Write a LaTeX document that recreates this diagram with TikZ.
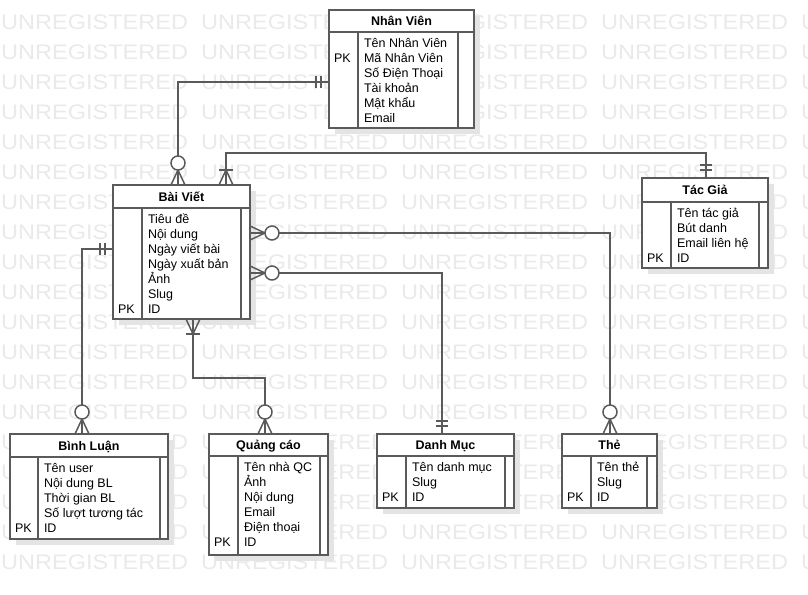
\documentclass[tikz,border=0pt]{standalone}
\usepackage{fontspec}
\setmainfont{Liberation Sans}
\usetikzlibrary{calc}

\definecolor{edgegray}{RGB}{90,90,90}
\definecolor{wmgray}{RGB}{234,234,234}
\definecolor{shadowgray}{RGB}{228,228,228}

\tikzset{
  entbox/.style={draw=edgegray, line width=1.5pt, fill=white, rectangle,
                 inner sep=0pt, outer sep=0pt},
  divider/.style={draw=edgegray, line width=1.5pt},
  conn/.style={draw=edgegray, line width=1.5pt},
  attr/.style={anchor=base west, inner sep=0pt, outer sep=0pt,
               font=\fontsize{12.5}{15}\selectfont},
  ttl/.style={anchor=base, inner sep=0pt, outer sep=0pt,
              font=\fontsize{12.5}{15}\selectfont\bfseries},
  wm/.style={anchor=west, inner sep=0pt, text=wmgray,
             font=\fontsize{21}{25}\selectfont},
  % end markers; local x axis points away from the entity
  pics/one/.style={code={
      \draw[conn] (8,-6) -- (8,6) (13,-6) -- (13,6);}},
  pics/zeromany/.style={code={
      \draw[conn] (0,-7) -- (15,0) -- (0,7);
      \draw[conn, fill=white] (22,0) circle (7);}},
  pics/onemany/.style={code={
      \draw[conn] (0,-7) -- (15,0) -- (0,7);
      \draw[conn] (15,-7) -- (15,7);}},
}

% entity: name, left, top, right, bottom, header line, inner left, inner right, title
\newcommand\erbox[9]{%
  \fill[shadowgray] (#2+6,#3+6) rectangle (#4+6,#5+6);
  \node[entbox, anchor=north west, minimum width={#4pt-#2pt},
        minimum height={#5pt-#3pt}] (#1) at (#2,#3) {};
  \draw[divider] (#2,#6) -- (#4,#6);
  \draw[divider] (#7,#6) -- (#7,#5);
  \draw[divider] (#8,#6) -- (#8,#5);
  \node[ttl] (#1-title) at ({(#2+#4)/2},{(#3+#6)/2+4.5}) {#9};
}
% attribute column: name, inner left, header line, list of attributes
\newcommand\erattrs[4]{%
  \foreach \txt [count=\i] in {#4}
    \node[attr] (#1-a\i) at (#2+6,{#3+15.5+15*(\i-1)}) {\txt};
}
% key marker: name, left, header line, row number
\newcommand\erpk[4]{%
  \node[attr] (#1-pk) at (#2+5,{#3+15.5+15*(#4-1)}) {PK};
}

\begin{document}
\begin{tikzpicture}[x=1pt,y=-1pt]
\useasboundingbox (0,0) rectangle (808,594);
\fill[white] (0,0) rectangle (808,594);

% background lettering
\begin{scope}
  \clip (0,0) rectangle (808,594);
  \foreach \r in {0,...,18}
    \foreach \c in {0,...,4}
      \node[wm] (wm-\r-\c) at (\c*200+1,22+\r*30) {\scalebox{1.12}[1]{UNREGISTERED}};
\end{scope}

% entities
\erbox{nv}{329}{10}{474}{128}{32}{358}{458}{Nhân Viên}
\erattrs{nv}{358}{32}{Tên Nhân Viên,Mã Nhân Viên,Số Điện Thoại,Tài khoản,Mật khẩu,Email}
\erpk{nv}{329}{32}{2}

\erbox{bv}{113}{185}{250}{319}{208}{142}{241}{Bài Viết}
\erattrs{bv}{142}{208}{Tiêu đề,Nội dung,Ngày viết bài,Ngày xuất bản,Ảnh,Slug,ID}
\erpk{bv}{113}{208}{7}

\erbox{tg}{642}{178}{768}{268}{202}{671}{759}{Tác Giả}
\erattrs{tg}{671}{202}{Tên tác giả,Bút danh,Email liên hệ,ID}
\erpk{tg}{642}{202}{4}

\erbox{bl}{10}{434}{168}{539}{457}{38}{160}{Bình Luận}
\erattrs{bl}{38}{457}{Tên user,Nội dung BL,Thời gian BL,Số lượt tương tác,ID}
\erpk{bl}{10}{457}{5}

\erbox{qc}{209}{434}{328}{555}{456}{238}{320}{Quảng cáo}
\erattrs{qc}{238}{456}{Tên nhà QC,Ảnh,Nội dung,Email,Điện thoại,ID}
\erpk{qc}{209}{456}{6}

\erbox{dm}{377}{434}{514}{508}{456}{406}{505}{Danh Mục}
\erattrs{dm}{406}{456}{Tên danh mục,Slug,ID}
\erpk{dm}{377}{456}{3}

\erbox{th}{562}{434}{657}{508}{456}{591}{647}{Thẻ}
\erattrs{th}{591}{456}{Tên thẻ,Slug,ID}
\erpk{th}{562}{456}{3}

% connection points on the entity borders
\coordinate (nv-w)  at ($(nv.north west)+(0,72)$);
\coordinate (bv-n1) at ($(bv.north west)+(65,0)$);
\coordinate (bv-n2) at ($(bv.north west)+(113,0)$);
\coordinate (tg-n)  at ($(tg.north west)+(64,0)$);
\coordinate (bv-e1) at ($(bv.north east)+(0,48)$);
\coordinate (bv-e2) at ($(bv.north east)+(0,88)$);
\coordinate (bv-w)  at ($(bv.north west)+(0,64)$);
\coordinate (bv-s)  at ($(bv.south west)+(80,0)$);
\coordinate (th-n)  at ($(th.north west)+(48,0)$);
\coordinate (dm-n)  at ($(dm.north west)+(65,0)$);
\coordinate (bl-n)  at ($(bl.north west)+(72,0)$);
\coordinate (qc-n)  at ($(qc.north west)+(56,0)$);

% relationships
\draw[conn] (nv-w) -| (bv-n1);
\draw[conn] (tg-n) -- ++(0,-25) -| (bv-n2);
\draw[conn] (bv-e1) -| (th-n);
\draw[conn] (bv-e2) -| (dm-n);
\draw[conn] (bv-w) -| (bl-n);
\draw[conn] (bv-s) -- ++(0,59) -| (qc-n);

% cardinality marks
\pic[rotate=180] at (nv-w) {one};
\pic[rotate=90]  at (bv-n1) {zeromany};
\pic[rotate=90]  at (tg-n) {one};
\pic[rotate=90]  at (bv-n2) {onemany};
\pic             at (bv-e1) {zeromany};
\pic[rotate=90]  at (th-n) {zeromany};
\pic             at (bv-e2) {zeromany};
\pic[rotate=90]  at (dm-n) {one};
\pic[rotate=180] at (bv-w) {one};
\pic[rotate=90]  at (bl-n) {zeromany};
\pic[rotate=-90] at (bv-s) {onemany};
\pic[rotate=90]  at (qc-n) {zeromany};
\end{tikzpicture}
\end{document}
